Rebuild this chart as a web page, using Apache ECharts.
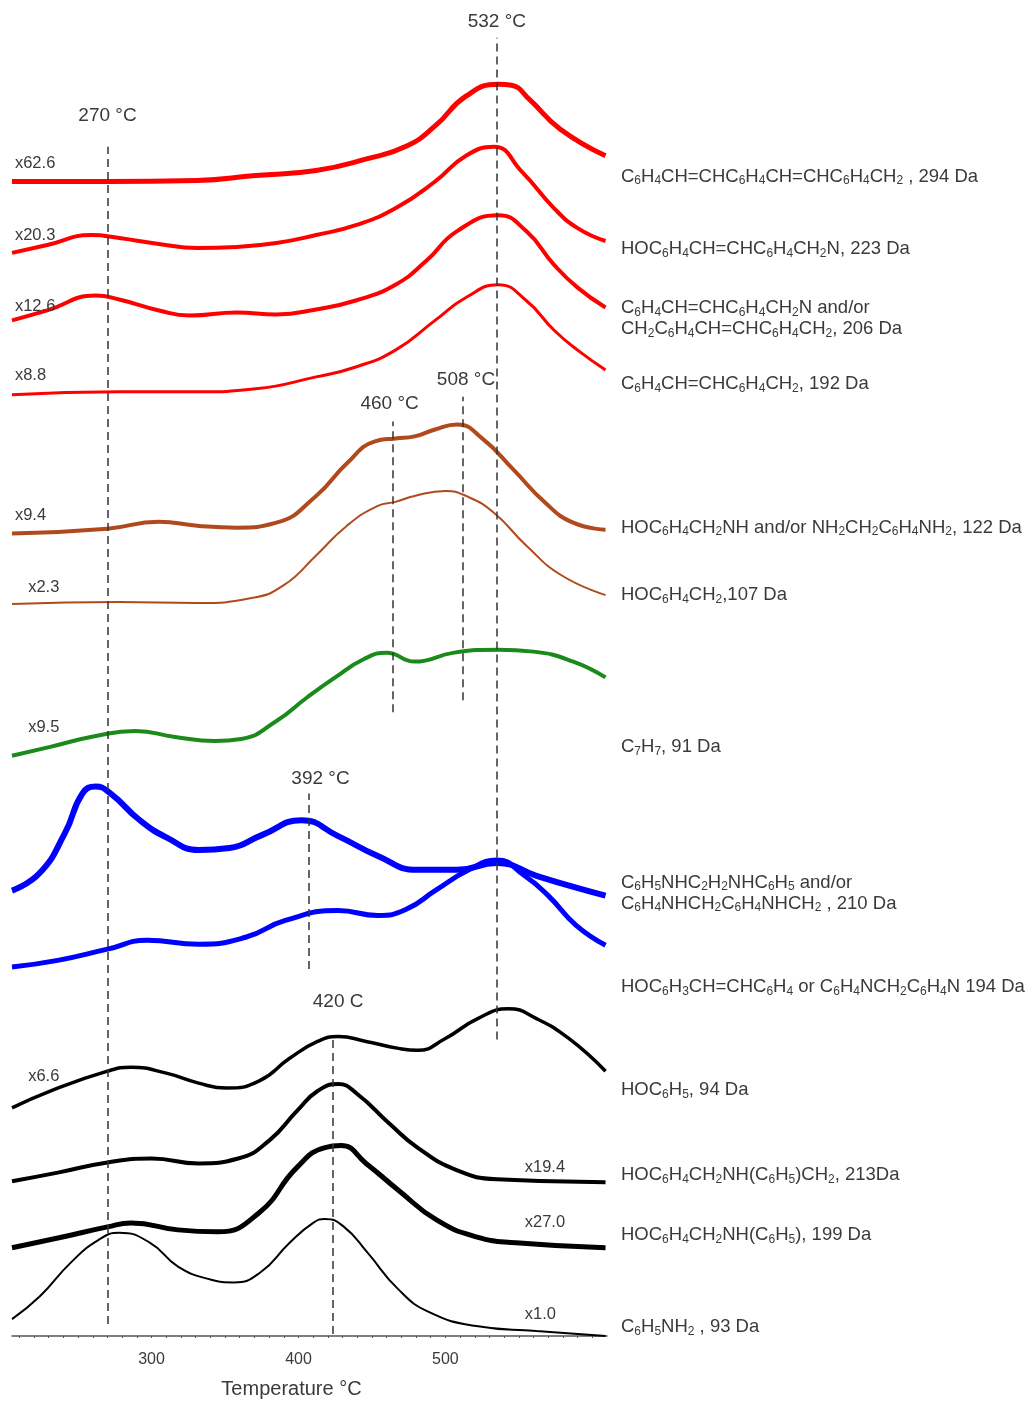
<!DOCTYPE html>
<html>
<head>
<meta charset="utf-8">
<script src="https://cdn.jsdelivr.net/npm/echarts@6/dist/echarts.min.js"></script>
<style>
html,body{margin:0;padding:0;background:#fff}
#charts{width:1035px;height:1404px}
</style>
</head>
<body>
<div id="charts"></div>
<script>
// traces, top to bottom: temperature (°C) and stacked intensity (a.u.)
var t294 = [205,270,331,371,412,447,474,493,514,536,545,557,578,609];
var y294 = [116.4,116.4,116.5,117.0,117.5,118.7,120.0,122.0,125.0,126.2,126.1,124.7,121.7,119.0];
var t223 = [205,229,259,278,305,331,358,385,412,439,466,493,514,533,552,574,590,609];
var y223 = [109.2,110.0,111.0,110.7,110.1,109.7,109.8,110.2,111.0,112.0,113.7,116.4,119.0,119.9,117.4,113.7,111.7,110.4];
var t206 = [205,229,262,278,305,326,358,385,412,439,466,487,508,536,555,574,590,609];
var y206 = [102.4,103.4,104.9,104.5,103.4,102.9,103.2,103.0,103.5,104.4,106.0,108.4,111.4,113.0,111.4,108.0,105.7,103.7];
var t192 = [205,278,331,371,412,439,466,493,514,536,555,574,590,609];
var y192 = [94.9,95.2,95.2,95.5,96.7,97.7,99.4,102.4,104.7,106.0,104.4,101.4,99.4,97.4];
var t122 = [205,270,305,331,358,385,412,433,452,466,479,493,508,525,546,568,587,609];
var y122 = [80.9,81.4,82.1,81.7,81.5,82.0,84.7,88.0,90.2,90.5,90.7,91.4,91.9,90.5,87.4,84.0,82.0,81.3];
var t107 = [205,278,331,368,390,412,433,454,466,479,500,514,533,555,579,609];
var y107 = [73.8,74.0,73.9,74.4,75.7,78.7,81.7,83.7,84.1,84.7,85.2,84.7,83.0,79.7,76.7,74.7];
var t91 = [205,231,262,289,316,343,361,385,406,425,444,460,479,506,536,560,587,609];
var y91 = [58.5,59.4,60.5,61.0,60.4,60.0,60.2,62.0,64.4,66.4,68.2,68.9,68.0,68.9,69.2,69.0,68.0,66.4];
var t210 = [205,224,241,253,262,272,292,311,332,353,375,402,427,454,481,508,535,562,589,609];
var y210 = [44.9,46.7,50.7,54.7,55.4,54.7,52.0,50.2,49.0,49.2,50.5,52.0,50.4,48.4,47.0,47.0,47.7,46.4,45.2,44.4];
var t194 = [205,237,270,297,332,364,391,427,454,473,494,516,535,554,570,589,609];
var y194 = [37.2,37.9,39.0,39.9,39.5,40.2,41.9,42.9,42.4,43.0,45.0,47.0,48.0,46.4,44.4,41.4,39.4];
var t94 = [205,231,270,286,310,332,351,373,394,413,427,446,468,481,500,522,543,562,584,609];
var y94 = [23.0,24.7,26.7,27.1,26.5,25.5,25.0,25.7,28.0,29.7,30.2,29.7,29.0,28.8,30.0,32.0,33.0,32.0,30.0,26.7];
var t213 = [205,237,270,300,332,359,380,399,413,427,440,462,481,508,535,609];
var y213 = [15.6,16.5,17.5,17.9,17.4,17.9,19.7,22.7,24.7,25.4,24.4,21.4,19.0,16.7,15.8,15.5];
var t199 = [205,237,270,286,318,345,373,399,418,429,446,468,494,521,548,609];
var y199 = [8.9,9.9,11.0,11.4,10.7,10.5,12.4,17.0,19.0,19.2,17.4,14.7,11.7,10.0,9.4,8.9];
var t93 = [205,224,245,264,278,299,318,340,356,374,394,410,418,431,447,468,489,521,562,609];
var y93 = [1.7,4.0,7.4,9.7,10.4,9.4,7.0,5.7,5.4,6.4,9.4,11.4,11.8,11.0,8.4,4.7,2.4,1.0,0.5,0.0];

var fragments = [
  'C_6H_4CH=CHC_6H_4CH=CHC_6H_4CH_2 , 294 Da',
  'HOC_6H_4CH=CHC_6H_4CH_2N, 223 Da',
  'C_6H_4CH=CHC_6H_4CH_2N and/or\nCH_2C_6H_4CH=CHC_6H_4CH_2, 206 Da',
  'C_6H_4CH=CHC_6H_4CH_2, 192 Da',
  'HOC_6H_4CH_2NH and/or NH_2CH_2C_6H_4NH_2, 122 Da',
  'HOC_6H_4CH_2,107 Da',
  'C_7H_7, 91 Da',
  'C_6H_5NHC_2H_2NHC_6H_5 and/or\nC_6H_4NHCH_2C_6H_4NHCH_2 , 210 Da',
  'HOC_6H_3CH=CHC_6H_4 or C_6H_4NCH_2C_6H_4N 194 Da',
  'HOC_6H_5, 94 Da',
  'HOC_6H_4CH_2NH(C_6H_5)CH_2, 213Da',
  'HOC_6H_4CH_2NH(C_6H_5), 199 Da',
  'C_6H_5NH_2 , 93 Da'
];
var factors = ['x62.6','x20.3','x12.6','x8.8','x9.4','x2.3','x9.5','','','x6.6','x19.4','x27.0','x1.0'];
var peakNames = ['270 °C','532 °C','508 °C','460 °C','392 °C','420 C'];
var peakLineT = [270, 535, 512, 464, 407, 423];
var xTicks = [210,220,230,240,250,260,270,280,290,300,310,320,330,340,350,360,370,380,390,400,
  410,420,430,440,450,460,470,480,490,500,510,520,530,540,550,560,570,580,590,600];
var xLabels = [300, 400, 500];

// layout of the annotations (not data)
var colors = ['#ff0000','#ff0000','#ff0000','#ff0000','#b04a1c','#b04a1c','#1a8a1a','#0000ff','#0000ff','#000','#000','#000','#000'];
var widths = [5,4,4,3,4,2,4,6,5,3.5,4,5,2];
var nameY = [116.9,109.6,102.55,96.0,81.5,74.7,59.4,44.65,35.2,24.8,16.2,10.2,0.9];
var factorPos = [[207,118.2],[207,111.0],[207,103.8],[207,96.8],[207,82.7],[216,75.5],[216,61.4],null,null,[216,26.2],[554,17.0],[554,11.4],[554,2.2]];
var peakSpan = [[119.9,1.2],[130.9,29.9],[94.7,64.1],[92.2,62.9],[54.7,37.0],[30.2,0.2]];
var peakLabelPos = [[270,123.0],[535,132.5],[514,96.4],[462,94.0],[415,56.2],[427,33.7]];

var traces = [[t294,y294],[t223,y223],[t206,y206],[t192,y192],[t122,y122],[t107,y107],[t91,y91],
  [t210,y210],[t194,y194],[t94,y94],[t213,y213],[t199,y199],[t93,y93]];

function chem(s){
  // C_6H_4 -> rich text with subscript digits
  return s.split('\n').map(function(line){
    var out = '', buf = '';
    for (var i = 0; i < line.length; i++) {
      if (line[i] == '_') {
        if (buf) { out += '{n|' + buf + '}'; buf = ''; }
        out += '{s|' + line[i+1] + '}';
        i++;
      } else buf += line[i];
    }
    if (buf) out += '{n|' + buf + '}';
    return out;
  }).join('\n');
}

var font = '"Liberation Sans", Arial, sans-serif';
var txt = '#3a3a3a';

var series = traces.map(function(tr, k){
  var pts = [];
  for (var i = 0; i < tr[0].length; i++) pts.push([tr[0][i], tr[1][i]]);
  var marks = [{
    coord: [610, nameY[k]],
    label: {
      show: true, position: 'right', distance: 14, formatter: chem(fragments[k]),
      rich: {
        n: {fontSize: 18.5, fontFamily: font, color: txt, lineHeight: 21},
        s: {fontSize: 12, fontFamily: font, color: txt, lineHeight: 11, verticalAlign: 'bottom'}
      }
    }
  }];
  if (factorPos[k]) marks.push({
    coord: factorPos[k],
    label: {show: true, position: 'right', distance: 0, formatter: factors[k],
      fontSize: 16.5, fontFamily: font, color: txt}
  });
  return {
    type: 'line', data: pts, showSymbol: false, smooth: 0.5, silent: true,
    lineStyle: {color: colors[k], width: widths[k]},
    markPoint: {symbol: 'circle', symbolSize: 0, silent: true, data: marks}
  };
});

series.push({
  type: 'line', data: [], silent: true,
  markLine: {
    symbol: ['none','none'], silent: true,
    lineStyle: {color: '#333', width: 1.5, type: [8,5]},
    label: {show: false},
    data: peakLineT.map(function(t, i){
      return [{coord: [t, peakSpan[i][1]]}, {coord: [t, peakSpan[i][0]]}];
    })
  },
  markPoint: {
    symbol: 'circle', symbolSize: 0, silent: true,
    data: peakNames.map(function(n, i){
      return {coord: peakLabelPos[i], label: {show: true, position: 'inside', formatter: n,
        fontSize: 19, fontFamily: font, color: txt}};
    })
  }
});

var chart = echarts.init(document.getElementById('charts'));
chart.setOption({
  animation: false,
  backgroundColor: '#fff',
  grid: {left: 12, right: 428, top: 0, bottom: 57},
  xAxis: {
    type: 'value', min: 205, max: 610,
    axisLine: {show: true, lineStyle: {color: '#555', width: 1.5}},
    axisTick: {show: true, customValues: xTicks, length: 2, lineStyle: {color: '#555'}},
    axisLabel: {customValues: xLabels, fontSize: 16, fontFamily: font, color: txt, margin: 16},
    splitLine: {show: false},
    name: 'Temperature °C', nameLocation: 'middle', nameGap: 43,
    nameTextStyle: {fontSize: 20, fontFamily: font, color: txt, padding: [0, 36, 0, 0]}
  },
  yAxis: {type: 'value', min: 0, max: 134.7, show: false},
  series: series
});
</script>
</body>
</html>
